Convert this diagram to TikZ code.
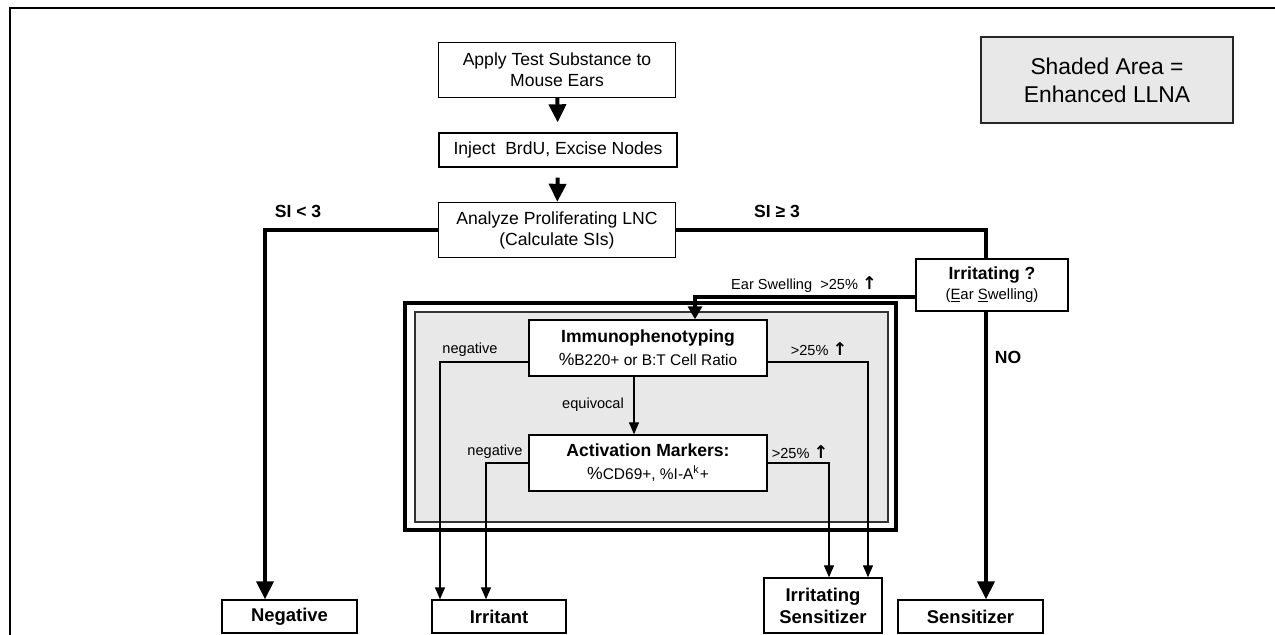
\documentclass[tikz,border=0pt]{standalone}
\usepackage{fontspec}
\setmainfont{Liberation Sans}
\newfontfamily\symfont{DejaVu Sans}
\usetikzlibrary{arrows.meta, positioning}
\definecolor{shade}{HTML}{E8E8E8}
\newcommand{\upar}{{\symfont\bfseries\fontsize{10}{10}\selectfont ↑}}
\tikzset{
  box/.style={draw, fill=white, line width=0.8pt, align=center, inner sep=0pt, font=\fontsize{10}{12}\selectfont},
  result/.style={box, font=\fontsize{10.5}{12.5}\selectfont\bfseries},
  flow/.style={-{Triangle[length=0.36cm, width=0.34cm]}, line width=2.2pt},
  branch/.style={line width=2.2pt},
  thinflow/.style={-{Triangle[length=0.24cm, width=0.2cm]}, line width=0.7pt},
  note/.style={font=\fontsize{8.3}{10}\selectfont, inner sep=1pt},
  tag/.style={font=\fontsize{10}{12}\selectfont\bfseries, inner sep=1pt},
}

\begin{document}
\begin{tikzpicture}[x=0.02cm, y=-0.02cm]
  \useasboundingbox (0,0) rectangle (1275,635);
  \draw[line width=1.3pt] (10,635) -- (10,8) -- (1275,8);
  % shaded part of the scheme
  \draw[line width=2.6pt] (405,303) rectangle (896,530);
  \draw[fill=shade, draw=black!80, line width=0.6pt] (415,312) rectangle (888,522);
  % main steps
  \node[box, minimum width=4.74cm, minimum height=1.1cm] (apply) at (557,70) {Apply Test Substance to\\Mouse Ears};
  \node[box, minimum width=4.76cm, minimum height=0.68cm] (inject) at (558,150) {Inject\ \ BrdU, Excise Nodes};
  \node[box, minimum width=4.74cm, minimum height=1.1cm] (analyze) at (557,230) {Analyze Proliferating LNC\\(Calculate SIs)};
  \node[box, fill=shade, draw=black!85, line width=1.1pt, minimum width=5.04cm, minimum height=1.72cm, font=\fontsize{13}{16}\selectfont] (legend) at (1107,80) {Shaded Area =\\Enhanced LLNA};
  \node[box, minimum width=3.04cm, minimum height=1.04cm] (irrq) at (992,285) {\textbf{Irritating ?}\\[-1pt]{\fontsize{8.5}{10}\selectfont(\underline{E}ar \underline{S}welling)}};
  \node[box, minimum width=4.76cm, minimum height=1.12cm] (immuno) at (648,348) {\textbf{Immunophenotyping}\\[1pt]{\fontsize{8.8}{10}\selectfont{\fontsize{10}{10}\selectfont\%}B220+ or B:T Cell Ratio}};
  \node[box, minimum width=4.76cm, minimum height=1.12cm] (activ) at (648,463) {\textbf{Activation Markers:}\\[1pt]{\fontsize{8.8}{10}\selectfont{\fontsize{10}{10}\selectfont\%}CD69+, \%I-A\textsuperscript{k}+}};
  % outcomes
  \node[result, minimum width=2.7cm, minimum height=0.66cm] (negbox) at (289.5,616.5) {Negative};
  \node[result, minimum width=2.68cm, minimum height=0.66cm] (irrit) at (499,616.5) {Irritant};
  \node[result, minimum width=2.36cm, minimum height=1.1cm] (irrsens) at (823,605.5) {Irritating\\Sensitizer};
  \node[result, minimum width=2.9cm, minimum height=0.66cm] (sens) at (970.5,616.5) {Sensitizer};
  % columns of the vertical connectors
  \coordinate (negcol) at (265,0);
  \coordinate (sencol) at (986,0);
  \coordinate (earcol) at (695,0);
  \coordinate (irrcolA) at (440,0);
  \coordinate (irrcolB) at (486,0);
  \coordinate (iscolA) at (829,0);
  \coordinate (iscolB) at (868,0);
  % connectors
  \draw[flow, shorten >=0.2cm] (apply) -- (inject);
  \draw[flow, shorten <=0.2cm] (inject) -- (analyze);
  \draw[flow] (analyze.west) -| (negcol |- negbox.north);
  \draw[branch] (analyze.east) -| (sencol |- irrq.north);
  \draw[flow] (sencol |- irrq.south) -- (sencol |- sens.north);
  \draw[branch, -{Triangle[length=0.26cm, width=0.28cm]}] ([yshift=-0.24cm]irrq.west) -| (earcol |- immuno.north);
  \draw[thinflow] ([xshift=-0.28cm]immuno.south) -- ([xshift=-0.28cm]activ.north);
  \draw[thinflow] ([yshift=-0.28cm]immuno.west) -| (irrcolA |- irrit.north);
  \draw[thinflow] ([yshift=-0.28cm]immuno.east) -| (iscolB |- irrsens.north);
  \draw[thinflow] (activ.west) -| (irrcolB |- irrit.north);
  \draw[thinflow] (activ.east) -| (iscolA |- irrsens.north);
  % labels
  \node[tag] (silo) at (298,211) {SI < 3};
  \node[tag] (sihi) at (777,211) {SI ≥ 3};
  \node[note] (ear) at (804,285) {Ear Swelling\ \ >25\% \upar};
  \node[tag] (no) at (1008,357) {NO};
  \node[note] (negA) at (470,350) {negative};
  \node[note] (upA) at (819,349) {>25\% \upar};
  \node[note] (equiv) at (593,405) {equivocal};
  \node[note] (negB) at (495,452) {negative};
  \node[note] (upB) at (800,452) {>25\% \upar};
\end{tikzpicture}
\end{document}
